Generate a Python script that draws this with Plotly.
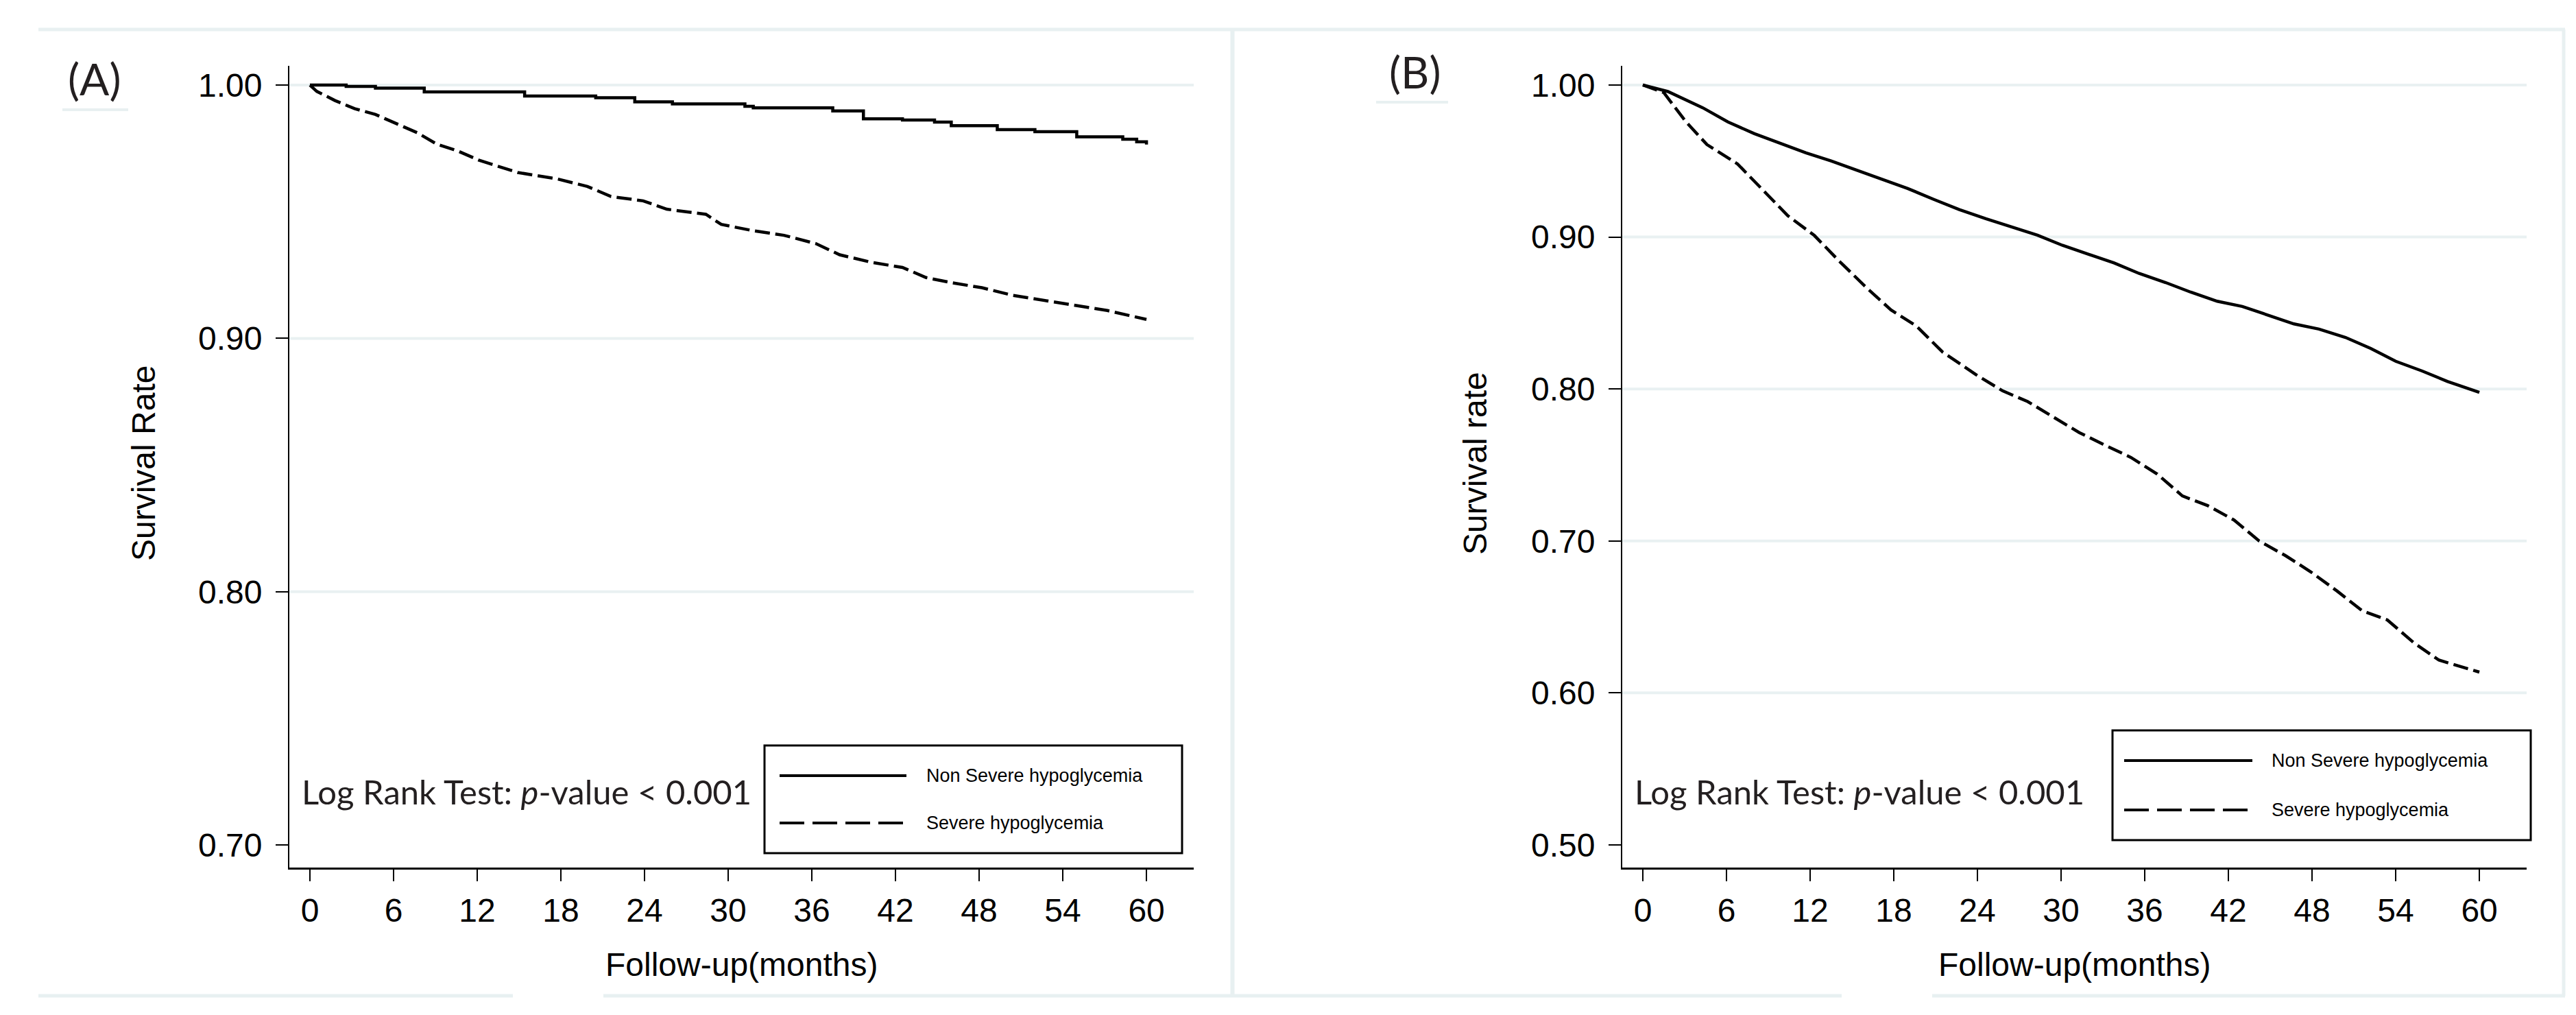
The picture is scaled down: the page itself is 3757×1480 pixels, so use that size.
import plotly.graph_objects as go

# ---------------- data ----------------
month_ticks = [0, 6, 12, 18, 24, 30, 36, 42, 48, 54, 60]
a_yticks = [0.70, 0.80, 0.90, 1.00]
b_yticks = [0.50, 0.60, 0.70, 0.80, 0.90, 1.00]
series_names = ["Non Severe hypoglycemia", "Severe hypoglycemia"]
annot_text = "Log Rank Test: <i>p</i>-value < 0.001"
panel_labels = ["(A)", "(B)"]
y_titles = ["Survival Rate", "Survival rate"]
x_title = "Follow-up(months)"

# Panel A
a_non_t = [0, 2.6, 4.7, 8.2, 15.4, 20.5, 23.3, 26.0, 31.2, 31.8, 37.5, 39.7,
           42.5, 44.8, 46.0, 49.3, 52.0, 55.0, 58.3, 59.3, 60.0]
a_non_s = [1.000, 0.9995, 0.9988, 0.9973, 0.9957, 0.9950, 0.9934, 0.9926,
           0.9916, 0.9910, 0.9898, 0.9867, 0.9862, 0.9854, 0.9840, 0.9824,
           0.9816, 0.9796, 0.9786, 0.9776, 0.9765]
a_sev_t = [0, 0.5, 1.8, 3.2, 4.7, 6.2, 7.7, 9.1, 10.6, 12.1, 14.9, 17.7, 19.9,
           21.6, 23.9, 25.6, 28.4, 29.5, 31.8, 34.0, 36.3, 38.0, 40.3, 42.5,
           44.2, 46.0, 48.2, 50.4, 52.7, 55.0, 57.2, 60.0]
a_sev_s = [1.000, 0.9975, 0.9939, 0.9907, 0.9884, 0.9848, 0.9812, 0.9767,
           0.9740, 0.9704, 0.9655, 0.9630, 0.9600, 0.9560, 0.9543, 0.9510,
           0.9490, 0.9450, 0.9425, 0.9407, 0.9374, 0.9330, 0.9300, 0.9280,
           0.9240, 0.9220, 0.9200, 0.9170, 0.9150, 0.9130, 0.9110, 0.9075]

# Panel B
b_non_t = [0, 1.8, 4.3, 6.1, 8.0, 9.8, 11.7, 13.5, 15.4, 17.2, 19.0, 20.9,
           22.7, 24.6, 26.4, 28.3, 30.1, 31.9, 33.8, 35.6, 37.5, 39.3, 41.2,
           43.0, 44.8, 46.7, 48.5, 50.4, 52.2, 54.0, 55.9, 57.7, 60.0]
b_non_s = [1.000, 0.9957, 0.9850, 0.9757, 0.9680, 0.9620, 0.9553, 0.9500,
           0.9438, 0.9374, 0.9319, 0.9246, 0.9180, 0.9120, 0.9067, 0.9012,
           0.8945, 0.8890, 0.8829, 0.8760, 0.8700, 0.8637, 0.8577, 0.8543,
           0.8488, 0.8428, 0.8394, 0.8339, 0.8267, 0.8182, 0.8118, 0.8050,
           0.7977]
b_sev_t = [0, 1.5, 3.1, 4.6, 6.8, 8.6, 10.4, 12.3, 14.1, 16.0, 17.8, 19.6,
           21.5, 23.9, 25.8, 27.6, 29.5, 31.3, 33.2, 35.0, 36.9, 38.7, 40.5,
           42.4, 44.2, 46.1, 47.9, 49.8, 51.6, 53.4, 55.3, 57.1, 60.0]
b_sev_s = [1.000, 0.9950, 0.9757, 0.9608, 0.9480, 0.9310, 0.9140, 0.9010,
           0.8840, 0.8670, 0.8520, 0.8416, 0.8243, 0.8094, 0.7988, 0.7917,
           0.7810, 0.7713, 0.7628, 0.7550, 0.7440, 0.7296, 0.7233, 0.7138,
           0.7000, 0.6903, 0.6797, 0.6670, 0.6540, 0.6480, 0.6330, 0.6216,
           0.6137]

# ---------------- layout helpers ----------------
W, H = 3757, 1480


def px(x):
    return x / W


def py(y):
    return 1 - y / H


TICK_FONT = dict(family="Liberation Sans, Arial, sans-serif", size=48, color="black")
LEG_FONT = dict(family="Liberation Sans, Arial, sans-serif", size=27, color="black")
NOTE_FONT = dict(family="Lato, Open Sans, sans-serif", size=49, color="#231f20")
FRAME = "#e8f0f1"
GRID = "#e9f1f2"
DASH_CURVE = "22px,8px"
DASH_LEG = "36px,12px"
LW = 4.5

fig = go.Figure()

fig.add_trace(go.Scatter(x=a_non_t, y=a_non_s, mode="lines", name=series_names[0],
                         line=dict(color="black", width=LW, shape="hv"),
                         xaxis="x", yaxis="y", showlegend=False))
fig.add_trace(go.Scatter(x=a_sev_t, y=a_sev_s, mode="lines", name=series_names[1],
                         line=dict(color="black", width=LW, dash=DASH_CURVE),
                         xaxis="x", yaxis="y", showlegend=False))
fig.add_trace(go.Scatter(x=b_non_t, y=b_non_s, mode="lines", name=series_names[0],
                         line=dict(color="black", width=LW),
                         xaxis="x2", yaxis="y2", showlegend=False))
fig.add_trace(go.Scatter(x=b_sev_t, y=b_sev_s, mode="lines", name=series_names[1],
                         line=dict(color="black", width=LW, dash=DASH_CURVE),
                         xaxis="x2", yaxis="y2", showlegend=False))

y_dom = [py(1257), py(88)]
xr = [-1.475, 63.39]


def xaxis_cfg(dom, anchor):
    return dict(domain=dom, anchor=anchor, range=xr, tickmode="array",
                tickvals=month_ticks, ticktext=[str(v) for v in month_ticks],
                ticks="outside", ticklen=17, tickwidth=2, tickcolor="black",
                showline=True, linecolor="black", linewidth=2.5,
                showgrid=False, zeroline=False, tickfont=TICK_FONT,
                ticklabelstandoff=2)


def yaxis_cfg(rng, tv, anchor):
    return dict(domain=y_dom, anchor=anchor, range=rng, tickmode="array",
                tickvals=tv, ticktext=[f"{v:.2f}" for v in tv],
                ticks="outside", ticklen=18, tickwidth=2, tickcolor="black",
                showline=True, linecolor="black", linewidth=2,
                showgrid=False, zeroline=False, tickfont=TICK_FONT,
                ticklabelstandoff=10)


fig.update_layout(
    width=W, height=H, margin=dict(l=0, r=0, t=0, b=0),
    paper_bgcolor="white", plot_bgcolor="white", showlegend=False,
    xaxis=xaxis_cfg([px(414), px(1733)], "y"),
    yaxis=yaxis_cfg([0.6911, 1.0076], a_yticks, "x"),
    xaxis2=xaxis_cfg([px(2358), px(3677)], "y2"),
    yaxis2=yaxis_cfg([0.4851, 1.0126], b_yticks, "x2"),
)

shapes = []
# horizontal gridlines (not at the lowest tick)
for yref, xref, tv in (("y", "x domain", a_yticks), ("y2", "x2 domain", b_yticks)):
    for v in tv[1:]:
        shapes.append(dict(type="line", xref=xref, yref=yref, x0=0, x1=1, y0=v, y1=v,
                           line=dict(color=GRID, width=4), layer="below"))

# outer frame rules
frame_lines = [
    (48, 35, 3733, 35, 5),
    (48, 1444, 740, 1444, 5), (872, 1444, 2678, 1444, 5), (2810, 1444, 3733, 1444, 5),
    (1789.5, 35, 1789.5, 1444, 6), (3731, 35, 3731, 1444, 5),
    (83, 152, 179, 152, 4), (1999, 141, 2104, 141, 4),
]
for x0, y0, x1, y1, w in frame_lines:
    shapes.append(dict(type="line", xref="paper", yref="paper",
                       x0=px(x0), y0=py(y0), x1=px(x1), y1=py(y1),
                       line=dict(color=FRAME, width=w), layer="below"))

# legend boxes and samples
legends = [
    dict(box=(1107, 1079, 1716, 1236), line_x=(1129, 1314), ys=(1123, 1192), tx=1341),
    dict(box=(3073, 1057, 3683, 1217), line_x=(3090, 3277), ys=(1101, 1173), tx=3303),
]
annotations = []
for lg in legends:
    x0, y0, x1, y1 = lg["box"]
    shapes.append(dict(type="rect", xref="paper", yref="paper",
                       x0=px(x0), y0=py(y1), x1=px(x1), y1=py(y0),
                       line=dict(color="black", width=3), fillcolor="white", layer="above"))
    for i, (yy, dash) in enumerate(zip(lg["ys"], ["solid", DASH_LEG])):
        shapes.append(dict(type="line", xref="paper", yref="paper",
                           x0=px(lg["line_x"][0]), x1=px(lg["line_x"][1]),
                           y0=py(yy), y1=py(yy),
                           line=dict(color="black", width=4, dash=dash), layer="above"))
        annotations.append(dict(xref="paper", yref="paper", x=px(lg["tx"]), y=py(yy),
                                text=series_names[i], showarrow=False,
                                xanchor="left", yanchor="middle", font=LEG_FONT))

# Log rank annotations
for xa in ("x", "x2"):
    annotations.append(dict(xref=xa + " domain", yref="paper", x=0.012, y=py(1146),
                            text=annot_text, showarrow=False, xanchor="left",
                            yanchor="middle", font=NOTE_FONT))

# panel labels
annotations.append(dict(xref="paper", yref="paper", x=px(130), y=py(107), text=panel_labels[0],
                        showarrow=False, xanchor="center", yanchor="middle",
                        font=dict(family="Lato, sans-serif", size=64, color="#231f20")))
annotations.append(dict(xref="paper", yref="paper", x=px(2056), y=py(96), text=panel_labels[1],
                        showarrow=False, xanchor="center", yanchor="middle",
                        font=dict(family="Lato, sans-serif", size=64, color="#231f20")))

# axis titles
for xc, yt in ((201, y_titles[0]), (2143, y_titles[1])):
    annotations.append(dict(xref="paper", yref="paper", x=px(xc), y=py(668), text=yt,
                            textangle=-90, showarrow=False, xanchor="center",
                            yanchor="middle", font=TICK_FONT))
for xc in (1073.5, 3017.5):
    annotations.append(dict(xref="paper", yref="paper", x=px(xc), y=py(1398), text=x_title,
                            showarrow=False, xanchor="center", yanchor="middle",
                            font=TICK_FONT))

fig.update_layout(shapes=shapes, annotations=annotations)
fig.write_html("out.html")
